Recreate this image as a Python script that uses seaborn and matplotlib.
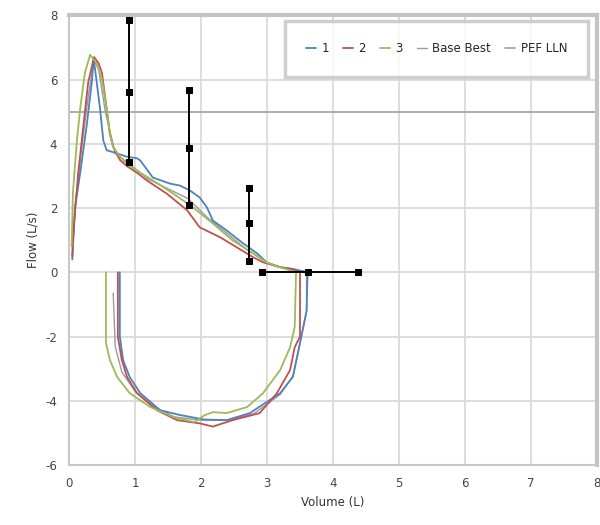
import matplotlib
matplotlib.use("Agg")
import matplotlib.pyplot as plt
import seaborn as sns
import pandas as pd

# flow-volume loops (volume L, flow L/s)
vol_1 = [0.05, 0.09, 0.17, 0.27, 0.35, 0.37, 0.39, 0.47, 0.52, 0.57, 0.73, 0.87, 1.03, 1.08, 1.27, 1.53,
         1.68, 1.83, 1.98, 2.09, 2.18, 2.39, 2.64, 2.85, 3.0, 3.2, 3.4, 3.62,
         3.61, 3.6, 3.5, 3.39, 3.2, 2.74, 2.39, 2.05, 1.68, 1.38, 1.08, 0.92, 0.82, 0.77, 0.77]
flow_1 = [0.4, 2.0, 3.1, 4.6, 6.0, 6.6, 6.4, 5.1, 4.1, 3.8, 3.7, 3.6, 3.55, 3.48, 2.95, 2.76,
          2.7, 2.55, 2.33, 2.02, 1.61, 1.3, 0.9, 0.59, 0.3, 0.16, 0.1, 0.0,
          -0.3, -1.2, -2.2, -3.26, -3.76, -4.38, -4.6, -4.58, -4.44, -4.29, -3.76, -3.26, -2.73, -2.0, 0.0]

vol_2 = [0.05, 0.06, 0.14, 0.22, 0.29, 0.38, 0.45, 0.5, 0.57, 0.62, 0.67, 0.77, 0.88, 1.03, 1.18, 1.48,
         1.79, 1.98, 2.29, 2.54, 2.79, 2.94, 3.2, 3.39, 3.5,
         3.5, 3.42, 3.35, 3.15, 2.89, 2.48, 2.18, 1.98, 1.64, 1.33, 1.03, 0.88, 0.8, 0.74, 0.74]
flow_2 = [0.5, 1.1, 3.1, 4.6, 5.9, 6.7, 6.5, 6.2, 5.1, 4.3, 3.9, 3.5, 3.3, 3.1, 2.86, 2.45,
          1.93, 1.4, 1.09, 0.78, 0.47, 0.31, 0.16, 0.1, 0.0,
          -2.0, -2.33, -3.04, -3.76, -4.38, -4.6, -4.8, -4.7, -4.6, -4.29, -3.76, -3.26, -2.73, -2.0, 0.0]

vol_3 = [0.04, 0.06, 0.12, 0.17, 0.24, 0.32, 0.42, 0.5, 0.57, 0.62, 0.67, 0.77, 0.92, 1.27, 1.58, 1.88,
         2.18, 2.48, 2.79, 3.0, 3.2, 3.44,
         3.42, 3.35, 3.2, 2.94, 2.7, 2.39, 2.18, 2.05, 1.9, 1.58, 1.23, 0.92, 0.73, 0.62, 0.56, 0.56]
flow_3 = [0.8, 2.5, 4.1, 5.1, 6.2, 6.77, 6.5, 6.0, 5.1, 4.3, 3.9, 3.6, 3.3, 2.86, 2.45, 2.02,
          1.52, 0.99, 0.59, 0.3, 0.16, 0.0,
          -1.7, -2.33, -3.04, -3.76, -4.19, -4.38, -4.35, -4.45, -4.66, -4.5, -4.19, -3.76, -3.26, -2.73, -2.2, 0.0]

vol_base = [0.05, 0.1, 0.2, 0.3, 0.38, 0.45, 0.55, 0.7, 0.9, 1.2, 1.5, 1.8, 2.1, 2.4, 2.7, 3.0, 3.3, 3.6,
            3.6, 3.5, 3.4, 3.2, 2.8, 2.4, 2.0, 1.6, 1.3, 1.0, 0.8, 0.7, 0.67]
flow_base = [0.5, 2.2, 4.0, 5.6, 6.6, 6.3, 5.0, 3.7, 3.4, 2.9, 2.6, 2.3, 1.7, 1.2, 0.7, 0.3, 0.1, 0.0,
             -1.2, -2.2, -3.2, -3.8, -4.4, -4.6, -4.6, -4.5, -4.2, -3.7, -3.1, -2.3, -0.65]

# predicted ranges (black)
pred_x = [0.91, 1.82, 2.73]
pred_lo = [3.42, 2.11, 0.34]
pred_mid = [5.62, 3.88, 1.52]
pred_hi = [7.86, 5.68, 2.61]
fvc_pts = [2.92, 3.62, 4.38]

pef_lln = 5.0

trials = [("1", vol_1, flow_1, "#4f81bd"),
          ("2", vol_2, flow_2, "#c0504d"),
          ("3", vol_3, flow_3, "#9bbb59")]

sns.set_style("white")
plt.rcParams["font.family"] = ["DejaVu Sans"]
plt.rcParams["axes.unicode_minus"] = False

fig = plt.figure(figsize=(6, 5.25), dpi=100)
ax = fig.add_axes([0.115, 0.114, 0.88, 0.857])

grid_c = "#dadada"
ax.set_axisbelow(True)
ax.grid(True, color=grid_c, lw=1.3)

sns.lineplot(x=vol_base, y=flow_base, sort=False, estimator=None, color="#9a9a9a", lw=1.0,
             ax=ax, label="Base Best", zorder=2)
for name, v, f, c in trials:
    sns.lineplot(x=v, y=f, sort=False, estimator=None, color=c, lw=1.3, ax=ax, label=name, zorder=3)

ax.axhline(pef_lln, color="#a0a0a0", lw=1.2, zorder=2, label="PEF LLN")

for x, lo, mid, hi in zip(pred_x, pred_lo, pred_mid, pred_hi):
    sns.lineplot(x=[x, x, x], y=[lo, mid, hi], sort=False, estimator=None, color="black", lw=1.4,
                 marker="s", markersize=5, mec="black", ax=ax, zorder=4)
sns.lineplot(x=fvc_pts, y=[0, 0, 0], sort=False, estimator=None, color="black", lw=1.4, marker="s",
             markersize=5, mec="black", ax=ax, zorder=4)

ax.set_xlim(0, 8)
ax.set_ylim(-6, 8)
ax.set_xticks(range(0, 9))
ax.set_yticks(range(-6, 9, 2))
ax.set_xlabel("Volume (L)", fontsize=8.5, color="#333333")
ax.set_ylabel("Flow (L/s)", fontsize=8.5, color="#333333")
ax.tick_params(axis="both", labelsize=8.5, colors="#444444", length=5, width=1.5, color="#c8c8c8", direction="out")
for t in ax.get_xticklabels() + ax.get_yticklabels():
    t.set_color("#444444")

for side in ["left", "bottom"]:
    ax.spines[side].set_color("#c8c8c8")
    ax.spines[side].set_linewidth(1.5)
for side in ["top", "right"]:
    ax.spines[side].set_color("#c4c4c4")
    ax.spines[side].set_linewidth(3)

handles, labels = ax.get_legend_handles_labels()
order = ["1", "2", "3", "Base Best", "PEF LLN"]
hmap = dict(zip(labels, handles))
leg = ax.legend([hmap[k] for k in order], order, loc="upper right", ncol=5, fontsize=8.5,
                handlelength=0.8, handletextpad=0.5, columnspacing=1.2, frameon=True,
                fancybox=False, borderpad=1.8, bbox_to_anchor=(0.995, 1.0))
leg.get_frame().set_edgecolor("#c4c4c4")
leg.get_frame().set_linewidth(2.5)

fig.savefig("out.png", dpi=100)
